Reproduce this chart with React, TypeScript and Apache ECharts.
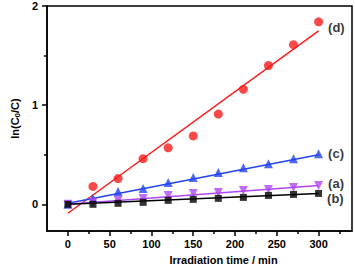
import React, { useEffect, useRef } from "react";
import * as echarts from "echarts";

const times = [0, 30, 60, 90, 120, 150, 180, 210, 240, 270, 300];
const timesD = [30, 60, 90, 120, 150, 180, 210, 240, 270, 300];
const seriesA = [0, 0.02, 0.04, 0.06, 0.09, 0.11, 0.12, 0.14, 0.15, 0.17, 0.19];
const seriesB = [0, 0.0, 0.01, 0.02, 0.04, 0.05, 0.06, 0.07, 0.09, 0.1, 0.11];
const seriesC = [0, 0.06, 0.13, 0.16, 0.22, 0.27, 0.32, 0.37, 0.41, 0.46, 0.51];
const seriesD = [0.18, 0.26, 0.46, 0.57, 0.69, 0.91, 1.16, 1.4, 1.61, 1.84];
const fitX = [0, 300];
const fitA = [0, 0.19];
const fitB = [0, 0.11];
const fitC = [0.01, 0.5];
const fitD = [-0.09, 1.75];
const labels = ["(a)", "(b)", "(c)", "(d)"];
const xMajor = [0, 50, 100, 150, 200, 250, 300];
const xMinor = [25, 75, 125, 175, 225, 275, 325];
const yMajor = [0, 1, 2];
const yMinor = [0.5, 1.5];

const FONT = "'Liberation Sans', Arial, sans-serif";

function pairs(xs: number[], ys: number[]) {
  return xs.map((x, i) => [x, ys[i]]);
}

function withEndLabel(xs: number[], ys: number[], text: string, offsetY: number) {
  return xs.map((x, i) => {
    if (i !== xs.length - 1) return [x, ys[i]];
    return {
      value: [x, ys[i]],
      label: {
        show: true,
        position: "right",
        distance: 5,
        offset: [0, offsetY],
        formatter: text,
        color: "#000",
        fontFamily: FONT,
        fontWeight: "bold",
        fontSize: 13,
      },
    };
  });
}

export default function App() {
  const ref = useRef<HTMLDivElement>(null);
  useEffect(() => {
    if (!ref.current) return;
    const chart = echarts.init(ref.current, null, { renderer: "svg" });
    const RED = "#f81c1c";
    const BLUE = "#2343f0";
    const PURPLE = "#b046f8";
    const BLACK = "#000";
    const xBase = {
      type: "value",
      min: -25,
      max: 340,
      position: "bottom",
      splitLine: { show: false },
    };
    const yBase = {
      type: "value",
      min: -0.27,
      max: 2,
      position: "left",
      splitLine: { show: false },
    };
    const lineSeries = (ys: number[], color: string) => ({
      type: "line",
      data: pairs(fitX, ys),
      showSymbol: false,
      symbol: "none",
      lineStyle: { color, width: 1.5 },
      silent: true,
      z: 2,
    });
    chart.setOption({
      animation: false,
      grid: {
        left: 43,
        right: 3,
        top: 6,
        bottom: 35,
        show: true,
        borderColor: "#000",
        borderWidth: 1.5,
        backgroundColor: "transparent",
      },
      xAxis: [
        {
          ...xBase,
          name: "Irradiation time / min",
          nameLocation: "middle",
          nameGap: 22,
          nameTextStyle: {
            fontFamily: FONT,
            fontWeight: "bold",
            fontSize: 11,
            color: "#000",
            padding: [0, 0, 0, 48],
          },
          axisLine: { show: true, onZero: false, lineStyle: { color: "#000", width: 1.5 } },
          axisTick: { show: true, customValues: xMajor, length: 5, lineStyle: { color: "#000", width: 1.5 } },
          axisLabel: {
            customValues: xMajor,
            margin: 7,
            fontFamily: FONT,
            fontWeight: "bold",
            fontSize: 11,
            color: "#000",
          },
        },
        {
          ...xBase,
          axisLine: { show: false, onZero: false },
          axisTick: { show: true, customValues: xMinor, length: 3, lineStyle: { color: "#000", width: 1.5 } },
          axisLabel: { show: false },
        },
      ],
      yAxis: [
        {
          ...yBase,
          name: "{a|ln(C}{s|0}{a|/C)}",
          nameLocation: "middle",
          nameGap: 25,
          nameTextStyle: {
            color: "#000",
            rich: {
              a: { fontFamily: FONT, fontWeight: "bold", fontSize: 11, color: "#000", lineHeight: 14 },
              s: { fontFamily: FONT, fontWeight: "bold", fontSize: 8, color: "#000", lineHeight: 14, padding: [5, 0, 0, 0] },
            },
          },
          axisLine: { show: true, onZero: false, lineStyle: { color: "#000", width: 1.5 } },
          axisTick: { show: true, customValues: yMajor, length: 5, lineStyle: { color: "#000", width: 1.5 } },
          axisLabel: {
            customValues: yMajor,
            margin: 9,
            fontFamily: FONT,
            fontWeight: "bold",
            fontSize: 11,
            color: "#000",
          },
        },
        {
          ...yBase,
          axisLine: { show: false, onZero: false },
          axisTick: { show: true, customValues: yMinor, length: 3, lineStyle: { color: "#000", width: 1.5 } },
          axisLabel: { show: false },
        },
      ],
      series: [
        lineSeries(fitD, RED),
        lineSeries(fitC, BLUE),
        lineSeries(fitA, PURPLE),
        lineSeries(fitB, BLACK),
        {
          type: "scatter",
          data: withEndLabel(timesD, seriesD, labels[3], 6),
          symbol: "circle",
          symbolSize: 9,
          itemStyle: { color: RED },
          z: 3,
        },
        {
          type: "scatter",
          data: withEndLabel(times, seriesC, labels[2], 0),
          symbol: "triangle",
          symbolSize: 9,
          itemStyle: { color: BLUE },
          z: 3,
        },
        {
          type: "scatter",
          data: withEndLabel(times, seriesA, labels[0], -2),
          symbol: "triangle",
          symbolRotate: 180,
          symbolSize: 9,
          itemStyle: { color: PURPLE },
          z: 3,
        },
        {
          type: "scatter",
          data: withEndLabel(times, seriesB, labels[1], 5),
          symbol: "rect",
          symbolSize: 7,
          itemStyle: { color: BLACK },
          z: 3,
        },
      ],
    });
    return () => chart.dispose();
  }, []);
  return <div ref={ref} style={{ width: 355, height: 270, position: "absolute", left: 0, top: 0 }} />;
}
